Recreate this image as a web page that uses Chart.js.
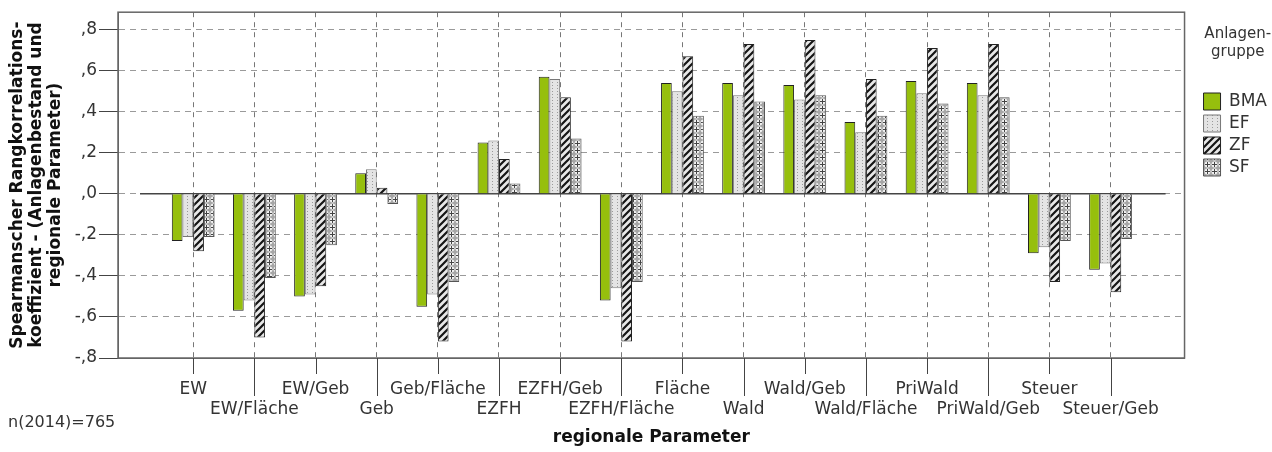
<!DOCTYPE html>
<html>
<head>
<meta charset="utf-8">
<script src="https://cdn.jsdelivr.net/npm/chart.js@4"></script>
<style>
  html, body { margin: 0; padding: 0; background: #fff; }
</style>
</head>
<body>
<canvas id="rank-chart" width="1272" height="452"></canvas>
<script>
const categories = ['EW', 'EW/Fläche', 'EW/Geb', 'Geb', 'Geb/Fläche', 'EZFH', 'EZFH/Geb', 'EZFH/Fläche',
  'Fläche', 'Wald', 'Wald/Geb', 'Wald/Fläche', 'PriWald', 'PriWald/Geb', 'Steuer', 'Steuer/Geb'];
const bma = [-0.23, -0.57, -0.50, 0.10, -0.55, 0.25, 0.57, -0.52, 0.54, 0.54, 0.53, 0.35, 0.55, 0.54, -0.29, -0.37];
const ef  = [-0.21, -0.52, -0.49, 0.12, -0.49, 0.26, 0.56, -0.46, 0.50, 0.48, 0.46, 0.30, 0.49, 0.48, -0.26, -0.34];
const zf  = [-0.28, -0.70, -0.45, 0.03, -0.72, 0.17, 0.47, -0.72, 0.67, 0.73, 0.75, 0.56, 0.71, 0.73, -0.43, -0.48];
const sf  = [-0.21, -0.41, -0.25, -0.05, -0.43, 0.05, 0.27, -0.43, 0.38, 0.45, 0.48, 0.38, 0.44, 0.47, -0.23, -0.22];
const seriesNames = ['BMA', 'EF', 'ZF', 'SF'];
const yTickValues = [-0.8, -0.6, -0.4, -0.2, 0, 0.2, 0.4, 0.6, 0.8];
const yTickLabels = ['-,8', '-,6', '-,4', '-,2', ',0', ',2', ',4', ',6', ',8'];
const yTitle = ['Spearmanscher Rangkorrelations-', 'koeffizient - (Anlagenbestand und', 'regionale Parameter)'];
const xTitle = 'regionale Parameter';
const legendTitle = ['Anlagen-', 'gruppe'];
const footnote = 'n(2014)=765';

const FONT = "'DejaVu Sans', sans-serif";
Chart.defaults.font.family = FONT;
Chart.defaults.color = '#333';

// fill patterns for the grey-scale series
function makePattern(w, h, draw) {
  const c = document.createElement('canvas');
  c.width = w; c.height = h;
  const g = c.getContext('2d');
  draw(g, w, h);
  return g.createPattern(c, 'repeat');
}
const efFill = makePattern(5, 3, (g, w, h) => {
  g.fillStyle = '#e4e4e4'; g.fillRect(0, 0, w, h);
  g.fillStyle = '#9a9a9a'; g.fillRect(2, 1, 1, 1);
});
const zfFill = makePattern(7, 7, (g, w, h) => {
  g.fillStyle = '#e8e8e8'; g.fillRect(0, 0, w, h);
  g.strokeStyle = '#151515'; g.lineWidth = 2.2;
  g.beginPath();
  g.moveTo(-1, h + 1); g.lineTo(w + 1, -1);
  g.moveTo(-1, 1); g.lineTo(1, -1);
  g.moveTo(w - 1, h + 1); g.lineTo(w + 1, h - 1);
  g.stroke();
});
const sfFill = makePattern(7, 7, (g, w, h) => {
  g.fillStyle = '#a6a6a6'; g.fillRect(0, 0, w, h);
  g.fillStyle = '#f2f2f2';
  g.beginPath(); g.arc(3.5, 3.5, 2.9, 0, 2 * Math.PI); g.fill();
  g.fillStyle = '#444';
  g.fillRect(3, 1, 1, 5); g.fillRect(1, 3, 5, 1);
});

const toPoints = arr => arr.map((v, i) => ({x: i, y: v}));

// frame, zero line, staggered x tick marks, sample note
const frame = {
  id: 'frame',
  afterLayout(chart) {
    // move legend a bit away from the plot frame
    chart.legend.left += 14;
    chart.legend.right += 14;
  },
  beforeDatasetsDraw(chart) {
    const {ctx, scales: {x, y}} = chart;
    const y0 = y.getPixelForValue(0);
    ctx.save();
    ctx.strokeStyle = '#444';
    ctx.lineWidth = 1.5;
    ctx.beginPath();
    ctx.moveTo(x.getPixelForValue(-0.87), y0);
    ctx.lineTo(x.getPixelForValue(15.9), y0);
    ctx.stroke();
    ctx.restore();
  },
  afterDraw(chart) {
    const {ctx, chartArea: a, scales: {x}} = chart;
    ctx.save();
    ctx.strokeStyle = '#666';
    ctx.lineWidth = 1.5;
    ctx.strokeRect(a.left, a.top, a.right - a.left, a.bottom - a.top);
    ctx.strokeStyle = '#444';
    ctx.lineWidth = 1;
    categories.forEach((c, i) => {
      const px = Math.round(x.getPixelForValue(i)) + 0.5;
      ctx.beginPath();
      ctx.moveTo(px, a.bottom);
      ctx.lineTo(px, a.bottom + (i % 2 ? 38 : 16));
      ctx.stroke();
    });
    ctx.fillStyle = '#333';
    ctx.font = '16px ' + FONT;
    ctx.textBaseline = 'middle';
    ctx.fillText(footnote, 8, 423);
    ctx.restore();
  }
};

const ctx = document.getElementById('rank-chart').getContext('2d');
new Chart(ctx, {
  type: 'bar',
  plugins: [frame],
  data: {
    datasets: [
      {label: seriesNames[0], data: toPoints(bma), backgroundColor: '#96bf0d', borderColor: '#222', borderWidth: 1},
      {label: seriesNames[1], data: toPoints(ef), backgroundColor: efFill, borderColor: '#777', borderWidth: 1},
      {label: seriesNames[2], data: toPoints(zf), backgroundColor: zfFill, borderColor: '#222', borderWidth: 1},
      {label: seriesNames[3], data: toPoints(sf), backgroundColor: sfFill, borderColor: '#555', borderWidth: 1}
    ]
  },
  options: {
    responsive: false,
    animation: false,
    barPercentage: 1,
    categoryPercentage: 0.7,
    layout: {padding: {top: 12, right: 9, bottom: 0, left: 0}},
    scales: {
      x: {
        type: 'linear',
        min: -1.23,
        max: 16.21,
        offset: false,
        afterBuildTicks: s => { s.ticks = categories.map((c, i) => ({value: i})); },
        afterFit: s => { s.height = 94; },
        ticks: {
          autoSkip: false,
          maxRotation: 0,
          padding: 21,
          font: {size: 17},
          color: '#333',
          callback: (v, i) => i % 2 ? ['', categories[i]] : [categories[i], '']
        },
        grid: {offset: false, color: '#777', drawTicks: false},
        border: {display: true, color: '#666', dash: [5, 5]},
        title: {display: true, text: xTitle, color: '#111', font: {size: 17, weight: 'bold'}, padding: {top: 0, bottom: 4}}
      },
      y: {
        min: -0.8,
        max: 0.885,
        afterBuildTicks: s => { s.ticks = yTickValues.map(v => ({value: v})); },
        afterFit: s => { s.width = 118; },
        ticks: {
          padding: 2,
          font: {size: 17},
          color: '#333',
          callback: (v, i) => yTickLabels[i]
        },
        grid: {color: '#9a9a9a', tickLength: 19, tickColor: '#444', tickBorderDash: []},
        border: {display: true, color: '#666', dash: [6, 5]},
        title: {
          display: true,
          text: yTitle,
          color: '#111',
          font: {size: 17, weight: 'bold', lineHeight: 1.12},
          padding: {top: 8, bottom: 0}
        }
      }
    },
    plugins: {
      tooltip: {enabled: false},
      legend: {
        position: 'right',
        align: 'start',
        title: {
          display: true,
          text: legendTitle,
          color: '#333',
          font: {size: 15, lineHeight: 1.2},
          padding: {top: 15, bottom: 43}
        },
        labels: {
          boxWidth: 17,
          boxHeight: 17,
          padding: 5,
          color: '#333',
          font: {size: 17}
        }
      }
    }
  }
});
</script>
</body>
</html>
